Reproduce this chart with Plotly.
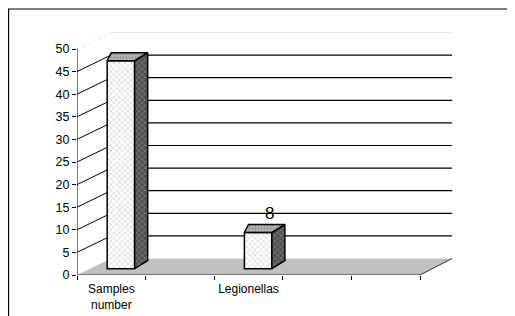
import plotly.graph_objects as go

# ---- data ----
categories = ["Samples<br>number", "", "Legionellas", "", ""]
values = [46, None, 8, None, None]
labels = [None, None, "8", None, None]
y_ticks = [0, 5, 10, 15, 20, 25, 30, 35, 40, 45, 50]

# ---- 3D geometry (in axis units) ----
n = len(categories)
depth_dx, depth_dy = 0.496, 3.65      # back-wall offset
bar_off, bar_w, bar_base = 0.64, 0.40, 1.4
side_dx, side_dy, top_ldx = 0.19, 1.77, 0.06
x_max = n + depth_dx - 0.03
y_max = 53.76

FONT = "Liberation Sans, Arial, sans-serif"
fig = go.Figure()

# side and top faces of bars (computed from values)
for i, v in enumerate(values):
    if v is None:
        continue
    xc = i + bar_off
    xl, xr = xc - bar_w / 2, xc + bar_w / 2
    top = bar_base + v
    # side face
    fig.add_trace(go.Scatter(
        x=[xr, xr, xr + side_dx, xr + side_dx, xr],
        y=[bar_base, top, top + side_dy, bar_base + side_dy, bar_base],
        mode="lines", fill="toself", fillcolor="#5a5a5a",
        fillpattern=dict(shape="x", fgcolor="#a8a8a8", bgcolor="#505050", size=4, solidity=0.35),
        line=dict(color="black", width=1.5), hoverinfo="skip", showlegend=False))
    # top face
    fig.add_trace(go.Scatter(
        x=[xl, xr, xr + side_dx, xl + top_ldx, xl],
        y=[top, top, top + side_dy, top + side_dy, top],
        mode="lines", fill="toself", fillcolor="#9a9a9a",
        fillpattern=dict(shape=".", fgcolor="#606060", bgcolor="#b8b8b8", size=3, solidity=0.4),
        line=dict(color="black", width=1.5), hoverinfo="skip", showlegend=False))

# front faces
bx = [i + bar_off for i, v in enumerate(values) if v is not None]
by = [v for v in values if v is not None]
fig.add_trace(go.Bar(
    x=bx, y=by, base=bar_base, width=bar_w,
    marker=dict(color="white", line=dict(color="black", width=1.5),
                pattern=dict(shape="x", fgcolor="#9a9a9a", bgcolor="white", size=4, solidity=0.3)),
    hoverinfo="skip", showlegend=False))

# data labels
for i, (v, lab) in enumerate(zip(values, labels)):
    if v is None or lab is None:
        continue
    fig.add_annotation(x=i + bar_off + side_dx / 2, y=bar_base + v + side_dy,
                       text=lab, showarrow=False, yanchor="bottom", xanchor="center", xshift=5,
                       font=dict(family=FONT, size=17, color="black"))

shapes = []
# floor
shapes.append(dict(type="path", layer="below", xref="x", yref="y",
                   path=f"M 0 0 L {n} 0 L {x_max} {depth_dy} L {depth_dx} {depth_dy} Z",
                   fillcolor="#c0c0c0", line=dict(width=0)))
shapes.append(dict(type="line", layer="below", xref="x", yref="y",
                   x0=depth_dx, y0=depth_dy, x1=x_max, y1=depth_dy,
                   line=dict(color="#eeeeee", width=1)))
shapes.append(dict(type="line", layer="below", xref="x", yref="y",
                   x0=n, y0=0, x1=x_max, y1=depth_dy, line=dict(color="#333333", width=1)))
# wall gridlines
for t in y_ticks[1:]:
    col = "black" if t < y_ticks[-1] else "#e4e4e4"
    dash = "solid" if t < y_ticks[-1] else "dot"
    shapes.append(dict(type="line", layer="below", xref="x", yref="y",
                       x0=0, y0=t, x1=depth_dx, y1=t + depth_dy, line=dict(color=col, width=1, dash=dash)))
    shapes.append(dict(type="line", layer="below", xref="x", yref="y",
                       x0=depth_dx, y0=t + depth_dy, x1=x_max, y1=t + depth_dy,
                       line=dict(color=col, width=1.2 if t < y_ticks[-1] else 1)))
# axes lines
shapes.append(dict(type="line", xref="x", yref="y", x0=0, y0=0, x1=0, y1=y_ticks[-1],
                   line=dict(color="black", width=1)))
shapes.append(dict(type="line", xref="x", yref="y", x0=0, y0=0, x1=n, y1=0,
                   line=dict(color="#333333", width=1)))
# outer frame (left and top edges visible)
shapes.append(dict(type="rect", xref="paper", yref="paper", x0=-0.1825, y0=-0.4, x1=1.4, y1=1.0947,
                   line=dict(color="black", width=1.2)))

fig.update_layout(
    width=515, height=316,
    margin=dict(l=69, r=71, t=24, b=49),
    paper_bgcolor="white", plot_bgcolor="rgba(0,0,0,0)",
    shapes=shapes, barmode="overlay",
    font=dict(family=FONT, color="black"),
    xaxis=dict(range=[0, x_max], showgrid=False, zeroline=False, showline=False,
               tickmode="array", tickvals=[i + 0.5 for i in range(n)], ticktext=categories,
               ticks="", ticklabelstandoff=5, tickfont=dict(size=12, family=FONT, color="black"),
               minor=dict(tickmode="array", tickvals=list(range(n + 1)), ticks="outside",
                          ticklen=4, tickcolor="black", tickwidth=1, showgrid=False)),
    yaxis=dict(range=[0, y_max], showgrid=False, zeroline=False, showline=False,
               tickmode="array", tickvals=y_ticks, ticks="outside", ticklen=4,
               tickcolor="black", tickfont=dict(size=12.5, family=FONT, color="black")),
)

fig.write_html("out.html")
